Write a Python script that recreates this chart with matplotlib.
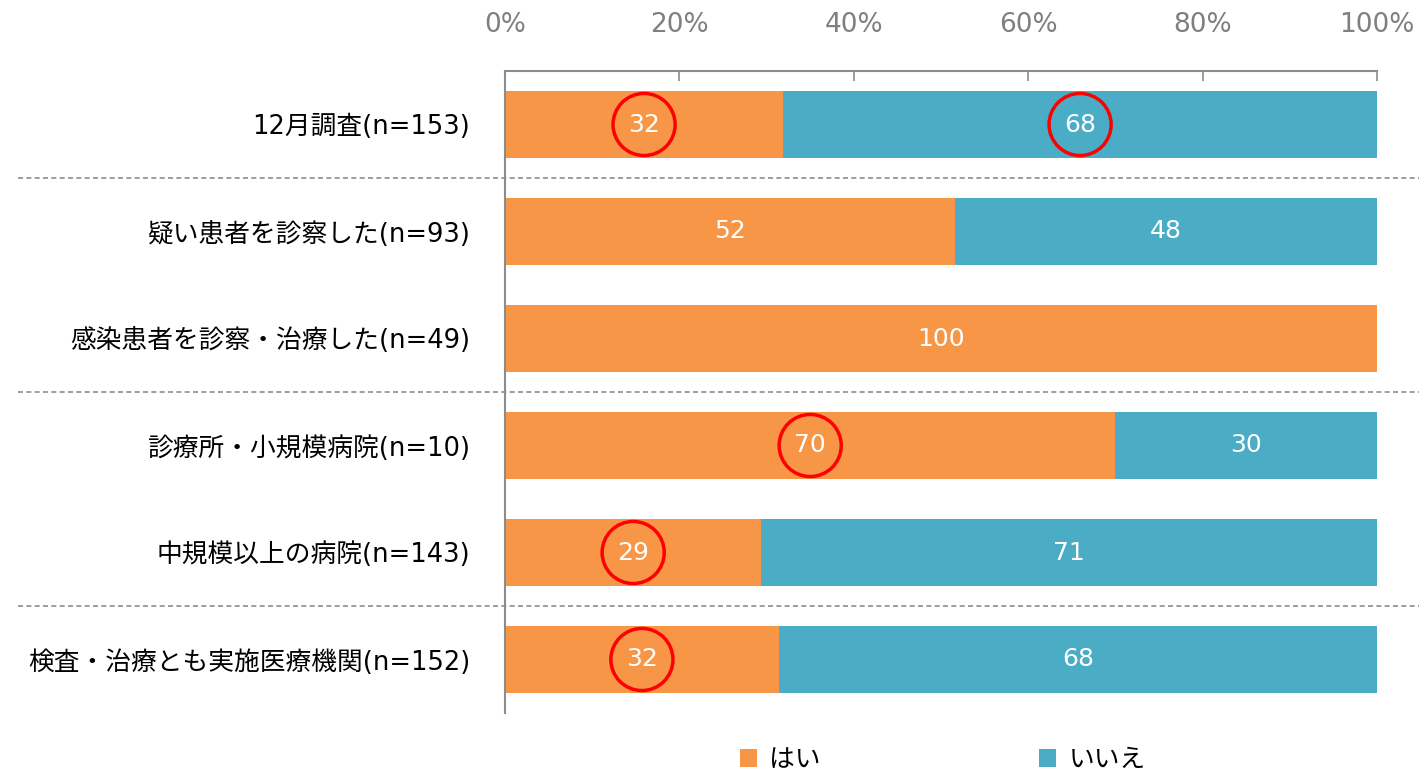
import matplotlib.pyplot as plt

plt.rcParams['font.family'] = ['DejaVu Sans', 'Noto Sans CJK JP']

# data
categories = ['12月調査(n=153)', '疑い患者を診察した(n=93)', '感染患者を診察・治療した(n=49)',
              '診療所・小規模病院(n=10)', '中規模以上の病院(n=143)', '検査・治療とも実施医療機関(n=152)']
hai = [31.9, 51.6, 100.0, 70.0, 29.4, 31.4]
iie = [68.1, 48.4, 0.0, 30.0, 70.6, 68.6]
hai_labels = ['32', '52', '100', '70', '29', '32']
iie_labels = ['68', '48', '', '30', '71', '68']
# which labels are circled in red
hai_circled = [True, False, False, True, True, True]
iie_circled = [True, False, False, False, False, False]
separators = [0.5, 2.5, 4.5]

c_hai = '#F79646'
c_iie = '#4BACC6'

fig = plt.figure(figsize=(14.19, 7.74), dpi=100)
ax = fig.add_axes([505 / 1419, 1 - 713 / 774, 872 / 1419, 642 / 774])

y = list(range(len(categories)))
b1 = ax.barh(y, hai, height=0.62, color=c_hai, label='はい')
b2 = ax.barh(y, iie, left=hai, height=0.62, color=c_iie, label='いいえ')

for i in y:
    if hai_labels[i]:
        xc = hai[i] / 2
        ax.text(xc, i, hai_labels[i], color='white', fontsize=18, ha='center', va='center')
        if hai_circled[i]:
            ax.scatter(xc, i, s=2000, facecolors='none', edgecolors='#FF0000', linewidths=2.5, zorder=5)
    if iie_labels[i]:
        xc = hai[i] + iie[i] / 2
        ax.text(xc, i, iie_labels[i], color='white', fontsize=18, ha='center', va='center')
        if iie_circled[i]:
            ax.scatter(xc, i, s=2000, facecolors='none', edgecolors='#FF0000', linewidths=2.5, zorder=5)

for s in separators:
    ax.plot([-0.558 * 100, 1.048 * 100], [s, s], color='#8C8C8C', lw=1.2, ls=(0, (3, 2)),
            clip_on=False, zorder=0)

ax.set_xlim(0, 100)
ax.set_ylim(5.5, -0.5)
ax.set_yticks(y)
ax.set_yticklabels(categories, fontsize=18.5)
ax.tick_params(axis='y', length=0, pad=25)
ax.xaxis.tick_top()
ax.set_xticks([0, 20, 40, 60, 80, 100])
ax.set_xticklabels(['0%', '20%', '40%', '60%', '80%', '100%'], fontsize=19, color='#7F7F7F')
ax.tick_params(axis='x', direction='in', length=7, width=1.2, color='#8C8C8C', pad=24)

for side in ['right', 'bottom']:
    ax.spines[side].set_visible(False)
for side in ['top', 'left']:
    ax.spines[side].set_color('#8C8C8C')
    ax.spines[side].set_linewidth(1.5)

fig.legend(handles=[b1, b2], loc='center', bbox_to_anchor=(943 / 1419, 1 - 760 / 774),
           ncol=2, frameon=False, fontsize=18.5, handlelength=0.65, handleheight=0.65,
           handletextpad=0.5, columnspacing=8.5)

fig.savefig('out.png', dpi=100)
